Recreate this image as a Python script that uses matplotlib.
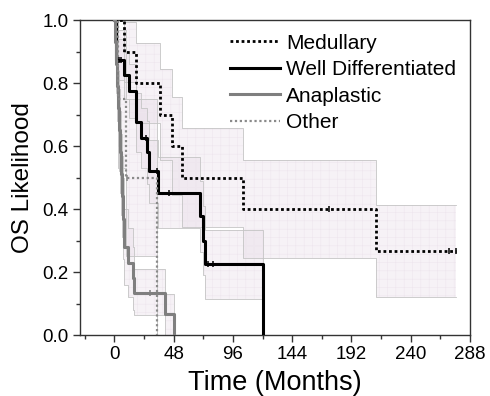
import numpy as np
import matplotlib
matplotlib.use('Agg')
import matplotlib.pyplot as plt

plt.rcParams['font.family'] = ['Liberation Sans', 'DejaVu Sans']
plt.rcParams['hatch.linewidth'] = 0.4

# Medullary
med_t = [0, 8, 17.5, 37, 47, 54.5, 104.5, 212, 277]
med_s = [1.0, 0.9, 0.8, 0.7, 0.6, 0.5, 0.4, 0.267, 0.267]
med_lo = [1.0, 0.805, 0.674, 0.555, 0.445, 0.342, 0.245, 0.12, 0.12]
med_hi = [1.0, 0.995, 0.926, 0.845, 0.755, 0.658, 0.555, 0.414, 0.414]
med_cens = [174, 271, 277]

# Well differentiated
wd_t = [0, 1.5, 8.1, 12.2, 17.6, 21.7, 26.3, 28.4, 35.3, 69, 71.8, 73.5, 120.3]
wd_s = [1.0, 0.875, 0.825, 0.775, 0.677, 0.627, 0.58, 0.52, 0.452, 0.378, 0.30, 0.225, 0.0]
wd_lo = [1.0, 0.81, 0.75, 0.69, 0.58, 0.53, 0.48, 0.42, 0.34, 0.265, 0.19, 0.115, 0.0]
wd_hi = [1.0, 0.94, 0.90, 0.86, 0.77, 0.72, 0.68, 0.62, 0.565, 0.49, 0.41, 0.335, 0.0]
wd_cens = [3.5, 5, 25.3, 34.3, 44.6, 75.6, 79.7]

# Anaplastic
ana_t = [0, 0.8, 1.5, 2.2, 3.0, 3.8, 4.5, 5.2, 6.0, 7.0, 8.1, 10.8, 14.8, 16.2, 40.6, 48]
ana_s = [1.0, 0.93, 0.86, 0.79, 0.72, 0.65, 0.58, 0.51, 0.44, 0.37, 0.28, 0.23, 0.18, 0.134, 0.067, 0.0]
ana_lo = [1.0, 0.87, 0.77, 0.68, 0.60, 0.52, 0.45, 0.38, 0.31, 0.24, 0.16, 0.12, 0.08, 0.065, 0.0, 0.0]
ana_hi = [1.0, 0.99, 0.95, 0.90, 0.84, 0.78, 0.71, 0.64, 0.57, 0.50, 0.40, 0.34, 0.28, 0.21, 0.13, 0.0]
ana_cens = [29]

# Other
oth_t = [0, 3, 9.5, 34.6]
oth_s = [1.0, 0.75, 0.5, 0.0]
oth_lo = [1.0, 0.53, 0.25, 0.0]
oth_hi = [1.0, 0.97, 0.75, 0.0]
oth_cens = [10.5]

grupos = [
    ('Medullary', med_t, med_s, med_lo, med_hi, med_cens, dict(color='black', ls=(0, (1, 1)), lw=2.0)),
    ('Well Differentiated', wd_t, wd_s, wd_lo, wd_hi, wd_cens, dict(color='black', ls='-', lw=2.2)),
    ('Anaplastic', ana_t, ana_s, ana_lo, ana_hi, ana_cens, dict(color='#7f7f7f', ls='-', lw=2.2)),
    ('Other', oth_t, oth_s, oth_lo, oth_hi, oth_cens, dict(color='#8a8a8a', ls=(0, (1, 1.2)), lw=1.6)),
]

fig = plt.figure(figsize=(4.9, 3.96), dpi=100)
ax = fig.add_axes([0.163, 0.154, 0.796, 0.795])

# bandas de confianza (relleno rosado con rejilla tenue)
for nombre, t, s, lo, hi, cens, estilo in grupos:
    ax.fill_between(t, lo, hi, step='post', facecolor='#e6d8e6', alpha=0.33,
                    edgecolor='none', zorder=1)
    ax.fill_between(t, lo, hi, step='post', facecolor='none', hatch='++',
                    edgecolor='#eee6ee', linewidth=0, zorder=1.2)
    ax.step(t, lo, where='post', color='#c4c4c4', lw=0.6, zorder=1.5)
    ax.step(t, hi, where='post', color='#c4c4c4', lw=0.6, zorder=1.5)

# curvas
for nombre, t, s, lo, hi, cens, estilo in grupos:
    ax.step(t, s, where='post', label=nombre, zorder=3, **estilo)
    idx = np.searchsorted(t, cens, side='right') - 1
    ax.plot(cens, np.array(s)[idx], ls='none', marker='|', ms=5, mew=1.1,
            color=estilo['color'], zorder=4)

ax.set_xlim(-28, 288)
ax.set_ylim(0, 1.0)
ax.set_xticks(np.arange(0, 289, 48))
ax.set_xticks(np.arange(-24, 289, 24), minor=True)
ax.set_yticks(np.arange(0, 1.01, 0.2))
ax.set_yticks(np.arange(0, 1.01, 0.1), minor=True)
ax.yaxis.set_major_formatter(matplotlib.ticker.FormatStrFormatter('%.1f'))
ax.tick_params(which='major', direction='out', length=5, width=1, labelsize=13.5,
               color='#333333', pad=3)
ax.tick_params(which='minor', direction='out', length=3, width=1, color='#333333')
for sp in ax.spines.values():
    sp.set_color('#333333')
    sp.set_linewidth(1.0)

ax.set_xlabel('Time (Months)', fontsize=19.5, labelpad=5)
ax.set_ylabel('OS Likelihood', fontsize=17.5, labelpad=6)

ax.legend(loc='upper right', frameon=False, fontsize=15, handlelength=2.4,
          handletextpad=0.3, labelspacing=0.36, borderpad=0.3, borderaxespad=0.35,
          bbox_to_anchor=(1.0, 1.0))

plt.savefig('out.png', dpi=100)
